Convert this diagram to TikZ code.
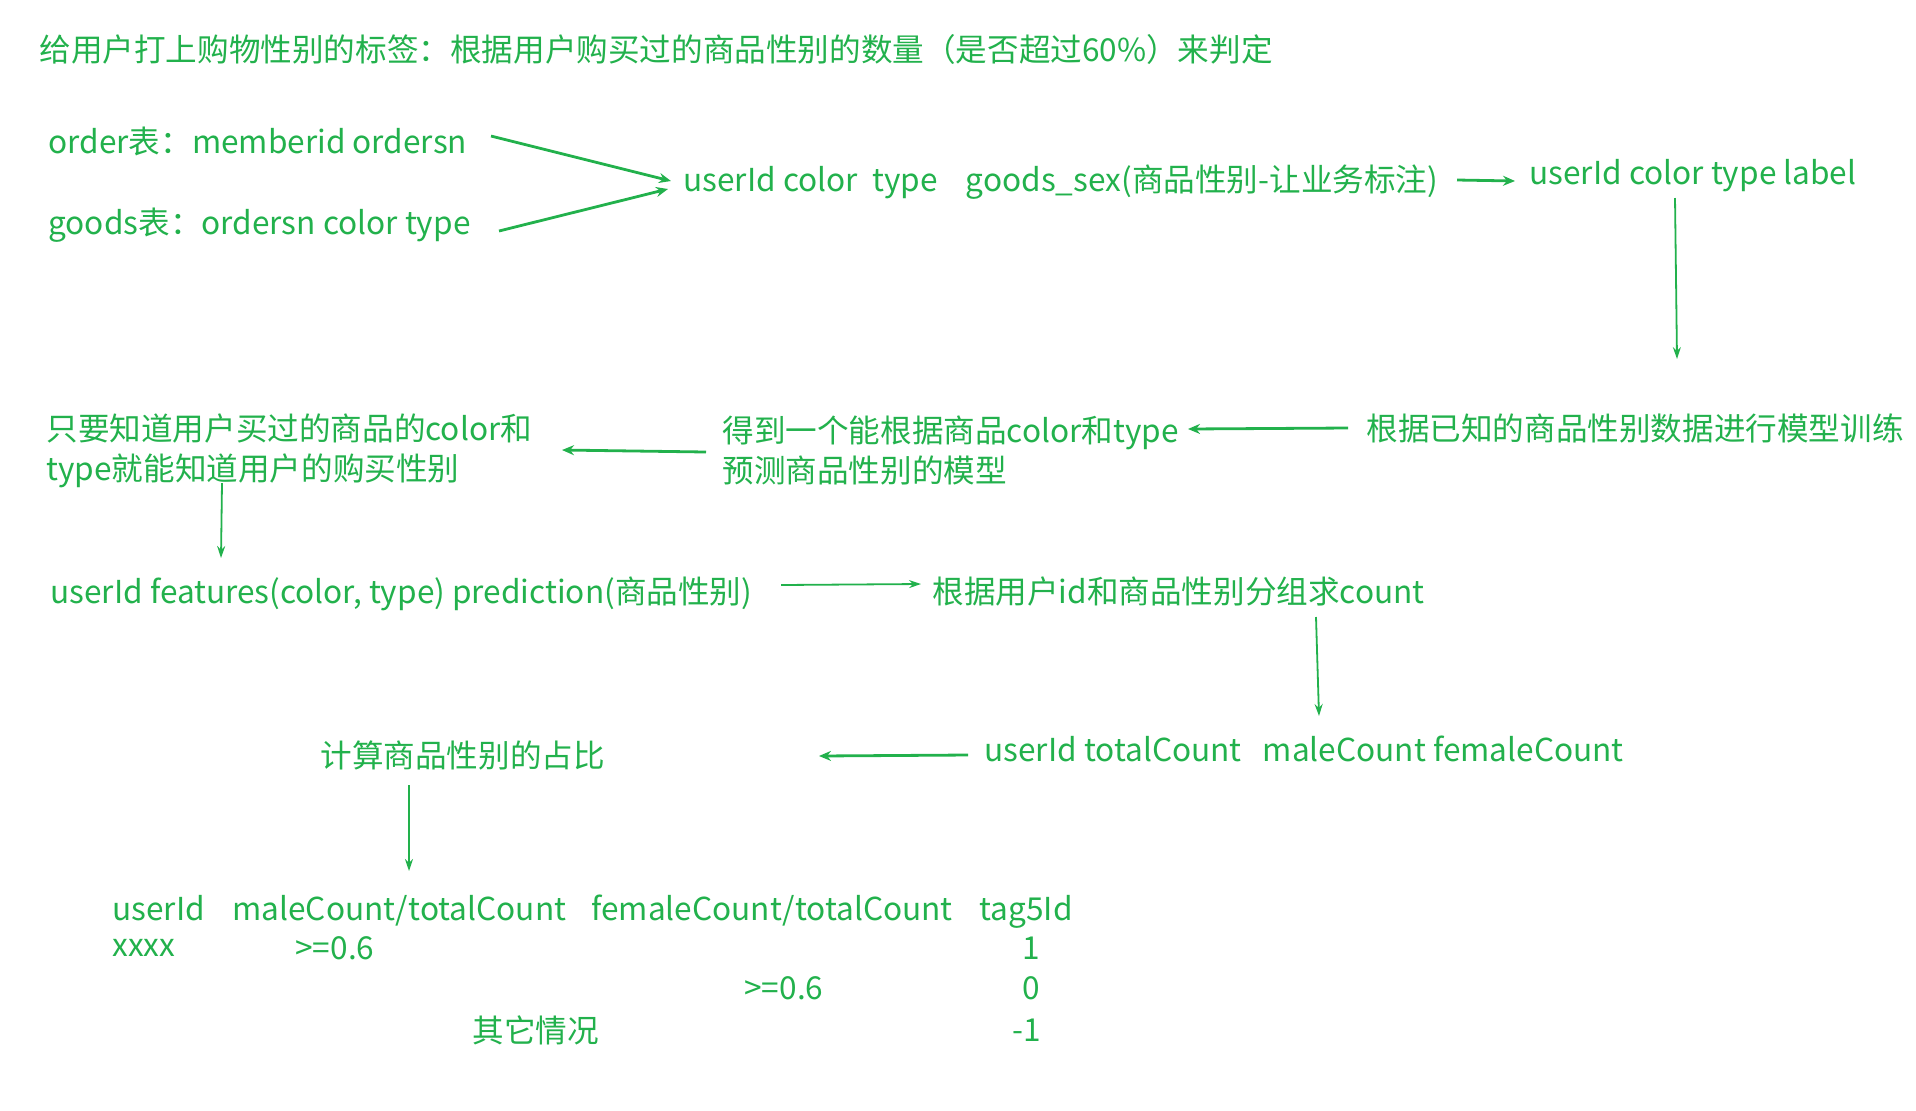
\documentclass[tikz,border=0pt]{standalone}
\usepackage{fontspec}
\newfontfamily\cjk{Noto Sans CJK SC}
\usetikzlibrary{arrows.meta}
\definecolor{flowgreen}{RGB}{34,177,76}

\begin{document}
\begin{tikzpicture}[x=0.5pt,y=-0.5pt]
\tikzset{
  txt/.style={anchor=west,inner sep=0pt,text=flowgreen,font=\cjk\fontsize{15.8}{20}\selectfont},
  twoline/.style={txt,align=left},
  headcell/.style={txt,anchor=base west},
  cell/.style={txt,anchor=center},
  flow/.style={-{Stealth[length=6pt,width=5pt]},draw=flowgreen,line width=1.4pt},
  flowthin/.style={-{Stealth[length=6pt,width=4pt]},draw=flowgreen,line width=0.9pt}
}
\useasboundingbox (0,0) rectangle (1916,1110);
\node[txt] (n_title) at (39,49) {给用户打上购物性别的标签：根据用户购买过的商品性别的数量（是否超过60\%）来判定};
\node[txt] (n_order) at (48,141) {order表：memberid ordersn};
\node[txt] (n_goods) at (48,225) {goods表：ordersn color type};
\node[txt] (n_cols) at (683,182) {userId color\ \ type\ \ \ \ goods\_sex(商品性别-让业务标注)};
\node[txt] (n_labeled) at (1529,176) {userId color type label};
\node[txt] (n_train) at (1366,428) {根据已知的商品性别数据进行模型训练};
\node[twoline] (n_model) at (722,450) {得到一个能根据商品color和type\\预测商品性别的模型};
\node[twoline] (n_know) at (46,451) {只要知道用户买过的商品的color和\\type就能知道用户的购买性别};
\node[txt] (n_pred) at (50,594) {userId features(color, type) prediction(商品性别)};
\node[txt] (n_group) at (932,591) {根据用户id和商品性别分组求count};
\node[txt] (n_counts) at (984,749) {userId totalCount\ \ \ maleCount femaleCount};
\node[txt] (n_ratio) at (320,755) {计算商品性别的占比};
% result table
\node[headcell] (n_h1) at (112,920) {userId};
\node[headcell] (n_h2) at (232,920) {maleCount/totalCount};
\node[headcell] (n_h3) at (591,920) {femaleCount/totalCount};
\node[headcell] (n_h4) at (979,920) {tag5Id};
\node[txt] (n_r1a) at (112,948) {xxxx};
\node[txt] (n_r1b) at (295,948) {>=0.6};
\node[cell] (n_r1c) at (1031,948) {1};
\node[txt] (n_r2b) at (744,988) {>=0.6};
\node[cell] (n_r2c) at (1031,988) {0};
\node[txt] (n_r3b) at (472,1030) {其它情况};
\node[cell] (n_r3c) at (1027,1030) {-1};
% connectors
\draw[flow] ([shift={(443,-5)}]n_order.west) -- ([shift={(-12,-1)}]n_cols.west);
\draw[flow] ([shift={(451,6)}]n_goods.west) -- ([shift={(-15,7)}]n_cols.west);
\draw[flow] ([shift={(774,-2)}]n_cols.west) -- ([shift={(-14,5)}]n_labeled.west);
\draw[flowthin] ([shift={(146,22)}]n_labeled.west) -- ([shift={(311,-69)}]n_train.west);
\draw[flow] ([shift={(-18,0)}]n_train.west) -- ([shift={(466,-21)}]n_model.west);
\draw[flow] ([shift={(-16,2)}]n_model.west) -- ([shift={(516,-1)}]n_know.west);
\draw[flowthin] ([shift={(176,32)}]n_know.west) -- ([shift={(171,-36)}]n_pred.west);
\draw[flowthin] ([shift={(731,-9)}]n_pred.west) -- ([shift={(-11,-7)}]n_group.west);
\draw[flowthin] ([shift={(384,26)}]n_group.west) -- ([shift={(335,-33)}]n_counts.west);
\draw[flow] ([shift={(-16,6)}]n_counts.west) -- ([shift={(499,1)}]n_ratio.west);
\draw[flowthin] ([shift={(89,30)}]n_ratio.west) -- ([shift={(177,-49)}]n_h2.base west);
\end{tikzpicture}
\end{document}
